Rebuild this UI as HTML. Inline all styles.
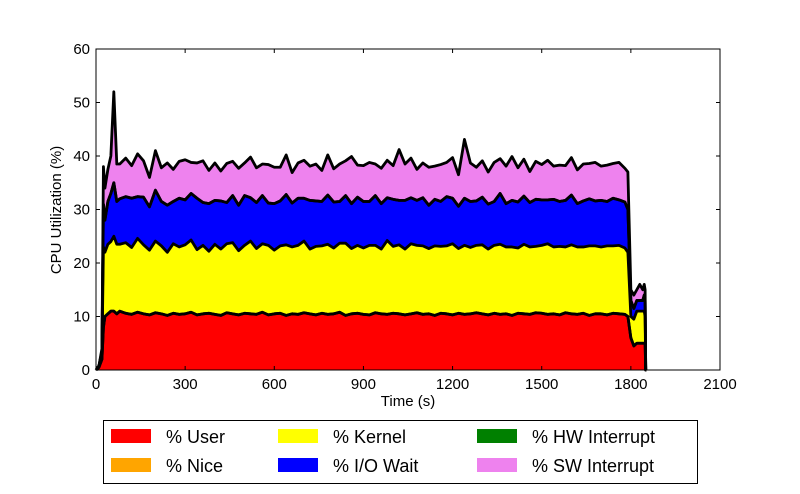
<!DOCTYPE html>
<html><head><meta charset="utf-8"><style>
body{margin:0;background:#fff;}
svg{display:block;font-family:"Liberation Sans",sans-serif;}
</style></head><body>
<svg id="chart" width="800" height="494"></svg>
<script>
const times=[0,10,20,25,30,40,50,60,70,80,
100,120,140,160,180,200,220,240,260,280,300,320,340,360,380,400,420,440,460,480,500,520,540,560,580,600,620,640,660,680,700,720,740,760,780,800,820,840,860,880,900,920,940,960,980,1000,1020,1040,1060,1080,1100,1120,1140,1160,1180,1200,1220,1240,1260,1280,1300,1320,1340,1360,1380,1400,1420,1440,1460,1480,1500,1520,1540,1560,1580,1600,1620,1640,1660,1680,1700,1720,1740,1760,1780,
1790,1800,1810,1820,1830,1840,1845,1848,1850,1852];
const userVals=[0,0.5,2,8,10,10.5,11,11,10.5,11,
10.6,10.4,10.8,10.5,10.3,10.7,10.5,10.2,10.6,10.4,
10.5,10.8,10.3,10.5,10.6,10.4,10.2,10.7,10.5,10.3,
10.6,10.5,10.4,10.8,10.3,10.5,10.6,10.2,10.5,10.4,
10.7,10.5,10.3,10.6,10.4,10.5,10.8,10.2,10.5,10.6,
10.4,10.3,10.7,10.5,10.4,10.6,10.5,10.3,10.5,10.7,
10.4,10.5,10.2,10.6,10.5,10.3,10.6,10.4,10.5,10.7,
10.5,10.3,10.6,10.4,10.5,10.2,10.6,10.5,10.4,10.7,
10.6,10.4,10.5,10.3,10.7,10.5,10.4,10.6,10.2,10.5,
10.5,10.3,10.6,10.5,10.4,
10,6,4.5,5,5,5,5,5,0,0];
const niceVals=times.map(()=>0);
const kernelVals=[0,0.3,1,15,12,13,13,14,13,12.5,
13.2,12.5,13.8,12.9,12.1,13.4,12.7,11.8,13.0,12.6,
12.9,13.5,12.2,12.8,11.6,13.1,12.4,12.9,13.3,12.0,
12.7,13.6,12.3,12.8,13.0,11.9,12.6,13.2,12.5,12.9,
13.4,12.1,12.8,12.6,13.1,12.3,12.9,13.5,12.2,12.7,
12.4,13.0,12.6,12.1,13.8,12.5,12.9,12.3,13.1,12.6,
12.8,12.2,13.0,12.5,12.7,13.3,12.1,12.9,12.4,12.6,
12.9,12.3,12.7,13.1,12.5,12.8,12.2,13.0,12.6,12.4,
12.7,13.2,12.5,12.8,12.3,12.9,12.6,12.4,13.0,12.7,
12.5,12.9,12.6,12.8,12.4,
12,4,5,6,6,6,6,5,0,0];
const iowaitVals=[0,0,0.5,8,6,8,9,10,8,8.5,
8.6,9.2,7.8,8.9,8.1,9.5,8.3,8.8,7.9,9.1,
8.4,8.7,9.6,8.0,8.9,8.2,9.0,7.7,8.8,8.5,
9.3,8.1,8.6,9.0,7.9,8.7,8.4,9.4,8.2,8.8,
8.0,9.1,8.5,8.3,9.2,8.6,7.8,8.9,8.4,9.0,
8.7,8.2,9.3,8.5,8.0,8.8,8.3,9.1,8.6,8.4,
9.0,8.1,8.7,8.4,9.2,8.5,7.9,8.8,8.6,8.3,
8.9,8.4,8.2,9.5,8.1,8.7,8.6,9.0,8.3,8.8,
8.5,8.2,8.9,8.4,8.7,9.3,8.1,8.6,8.8,8.4,
8.7,8.3,8.9,8.5,8.6,
8,3,2,2,2,2,3,3,0,0];
const hwVals=times.map(()=>0);
const swVals=[0,0,0.5,7,6,6,7,17,7,6.5,
7.2,6.1,8.0,6.8,5.5,7.4,6.3,7.9,6.0,6.9,
7.5,5.8,6.6,7.8,6.2,7.0,5.6,7.3,6.4,6.9,
6.1,7.6,6.5,5.9,7.2,6.8,6.3,7.4,5.7,6.6,
7.1,6.4,6.9,5.8,7.5,6.2,7.0,6.5,8.8,6.0,
6.7,7.3,5.9,6.6,7.0,6.3,9.5,6.8,7.4,5.8,
6.5,7.1,6.2,6.9,6.4,7.6,5.9,11,7.2,6.3,
6.8,6.0,7.3,6.5,7.0,8.2,6.4,6.9,5.8,7.1,
6.6,7.4,6.2,6.8,6.5,7.0,6.3,6.9,6.6,7.2,
6.4,6.8,6.5,7.0,6.3,
7,2,2.5,2,3,2,2,2,0,0];
const xTicks=[0,300,600,900,1200,1500,1800,2100];
const yTicks=[0,10,20,30,40,50,60];
const seriesNames=["% User","% Nice","% Kernel","% I/O Wait","% HW Interrupt","% SW Interrupt"];
const seriesColors=["#ff0000","#ffa500","#ffff00","#0000ff","#008000","#ee82ee"];

const NS="http://www.w3.org/2000/svg";
const svg=document.getElementById('chart');
const L=96,R=720,T=49,B=370;
const xS=v=>L+(v-0)/2100*(R-L);
const yS=v=>B-(v/60)*(B-T);
function mk(tag,attrs,parent){const e=document.createElementNS(NS,tag);for(const k in attrs)e.setAttribute(k,attrs[k]);(parent||svg).appendChild(e);return e;}

const plot=mk('g',{});


const all=[userVals,niceVals,kernelVals,iowaitVals,hwVals,swVals];
const n=Math.min(times.length,...all.map(a=>a.length));
let base=new Array(n).fill(0);
const layerNames=['area-user','area-nice','area-kernel','area-iowait','area-hw-interrupt','area-sw-interrupt'];
const tops=[];
all.forEach((s,si)=>{
  const top=[];for(let i=0;i<n;i++)top.push(base[i]+s[i]);
  let d='M'+xS(times[0])+','+yS(top[0]);
  for(let i=1;i<n;i++)d+=' L'+xS(times[i]).toFixed(2)+','+yS(top[i]).toFixed(2);
  for(let i=n-1;i>=0;i--)d+=' L'+xS(times[i]).toFixed(2)+','+yS(base[i]).toFixed(2);
  d+='Z';
  const p=mk('path',{d:d,fill:seriesColors[si],stroke:'none'},plot);
  
  
  tops.push(top);base=top;
});
tops.forEach((top,si)=>{
  let d='M'+xS(times[0])+','+yS(top[0]);
  for(let i=1;i<n;i++)d+=' L'+xS(times[i]).toFixed(2)+','+yS(top[i]).toFixed(2);
  const p=mk('path',{d:d,fill:'none',stroke:'#000','stroke-width':2.8,'stroke-linejoin':'round'},plot);
  
  
});
const frame=mk('rect',{x:L,y:T,width:R-L,height:B-T,fill:'none',stroke:'#000','stroke-width':1});


xTicks.forEach(v=>{
  const x=xS(v);
  mk('line',{x1:x,x2:x,y1:B,y2:B-4,stroke:'#000'});
  mk('line',{x1:x,x2:x,y1:T,y2:T+4,stroke:'#000'});
  const t=mk('text',{x:x,y:B+19,'text-anchor':'middle','font-size':15});
  t.textContent=v;
  
  
});
yTicks.forEach(v=>{
  const y=yS(v);
  mk('line',{x1:L,x2:L+4,y1:y,y2:y,stroke:'#000'});
  mk('line',{x1:R,x2:R-4,y1:y,y2:y,stroke:'#000'});
  const t=mk('text',{x:L-6,y:y+5,'text-anchor':'end','font-size':15});
  t.textContent=v;
  
  
});
const xl=mk('text',{x:(L+R)/2,y:406,'text-anchor':'middle','font-size':15});
xl.textContent='Time (s)';


const yl=mk('text',{x:0,y:0,'text-anchor':'middle','font-size':15,transform:'translate(61,210) rotate(-90)'});
yl.textContent='CPU Utilization (%)';



const lg=mk('g',{});


mk('rect',{x:103.5,y:420.5,width:594,height:63,fill:'#fff',stroke:'#000'},lg);
const cols=[111,278,477],rows=[436,465];
seriesNames.forEach((nm,i)=>{
  const c=Math.floor(i/2),r=i%2;
  const sw=mk('rect',{x:cols[c],y:rows[r]-7,width:40,height:14,fill:seriesColors[i]},lg);
  
  
  const t=mk('text',{x:cols[c]+55,y:rows[r]+7,'font-size':18},lg);
  t.textContent=nm;
  
  
});
</script>
</body></html>
